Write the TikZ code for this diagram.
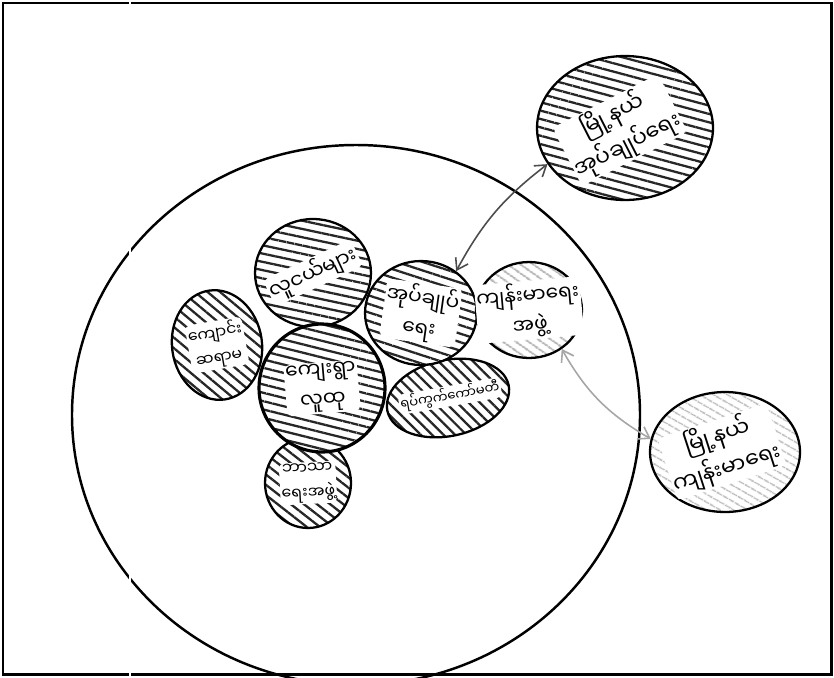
\documentclass[tikz,border=0pt]{standalone}
\usepackage{fontspec}
\newfontfamily\mmfont[Script=Myanmar]{Noto Sans Myanmar UI}
\usetikzlibrary{arrows.meta, shapes.geometric, patterns.meta}

\begin{document}
\begin{tikzpicture}[
    x=0.02cm, y=-0.02cm, % pixel grid, y goes down
    frame/.style={black, line width=1.7pt},
    blob/.style 2 args={ellipse, draw=black, line width=1.3pt, inner sep=0pt,
        minimum width=#1*0.04cm, minimum height=#2*0.04cm, preaction={fill=white}},
    darkhatch/.style={pattern={Lines[angle=#1, distance=4.6pt, line width=1.3pt]}, pattern color=black!85},
    lighthatch/.style={pattern={Lines[angle=#1, distance=4pt, line width=1.1pt]}, pattern color=black!28},
    tag/.style={font=\mmfont\fontsize{11.5}{17}\selectfont, align=center, fill=white, inner sep=0.8pt, rounded corners=3pt},
    tagsmall/.style={tag, font=\mmfont\fontsize{9}{14}\selectfont},
    tagtiny/.style={tag, font=\mmfont\fontsize{7.5}{11}\selectfont},
    tagbig/.style={tag, font=\mmfont\fontsize{12.5}{19}\selectfont},
    link_dark/.style={<->, >={Straight Barb[length=6pt, width=8pt]}, black!70, line width=0.9pt},
    link_light/.style={<->, >={Straight Barb[length=6pt, width=8pt]}, black!35, line width=0.9pt}
]
\useasboundingbox (0,0) rectangle (834,677);

% Frame
\draw[frame] (3,3) rectangle (831,674);

% Village boundary
\begin{scope}
\clip (0,0) rectangle (834,677);
\draw[line width=1.4pt] (356,415) ellipse [x radius=284, y radius=270];
\end{scope}

% Groups inside the village
\node[blob={58}{54}, darkhatch=-12] (youth) at (313,273) {};
\node[blob={45}{55}, darkhatch=-40, rotate=8] (teacher) at (217,345) {};
\node[blob={43}{45}, darkhatch=-38] (religion) at (308,483) {};
\node[blob={63}{64}, darkhatch=-14, line width=1.8pt] (village) at (322,388) {};
\node[blob={62}{38}, darkhatch=-45, rotate=12] (committee) at (448,398) {};
\node[blob={56}{52}, darkhatch=-18] (admin) at (421,313) {};
\node[blob={53}{48}, lighthatch=-35] (health) at (529,310) {};

% Township offices
\node[blob={88}{72}, darkhatch=-15] (townadmin) at (625,128) {};
\node[blob={75}{60}, lighthatch=-30] (townhealth) at (725,452) {};

% Labels
\node[tag, rotate=25] (youth_t) at (youth) {လူငယ်များ};
\node[tagsmall, rotate=10] (teacher_t) at (teacher) {ကျောင်း\\ဆရာမ};
\node[tagsmall, rotate=3] (religion_t) at (religion) {ဘာသာ\\ရေးအဖွဲ့};
\node[tag, rotate=5] (village_t) at (village) {ကျေးရွာ\\လူထု};
\node[tagtiny, rotate=10] (committee_t) at (450,396) {ရပ်ကွက်ကော်မတီ};
\node[tag, rotate=-8] (admin_t) at (admin) {အုပ်ချုပ်\\ရေး};
\node[tag, rotate=5] (health_t) at (health) {ကျန်းမာရေး\\အဖွဲ့};
\node[tagbig, rotate=27] (townadmin_t) at (620,130) {မြို့နယ်\\အုပ်ချုပ်ရေး};
\node[tagbig, rotate=18] (townhealth_t) at (722,452) {မြို့နယ်\\ကျန်းမာရေး};

% Links to the township
\draw[link_dark] (admin.50) to[bend left=12] (townadmin.205);
\draw[link_light] (health.-50) to[bend right=15] (townhealth.170);

% scan seam
\draw[white, line width=1.7pt] (130,0) -- (130,677);

\end{tikzpicture}
\end{document}
